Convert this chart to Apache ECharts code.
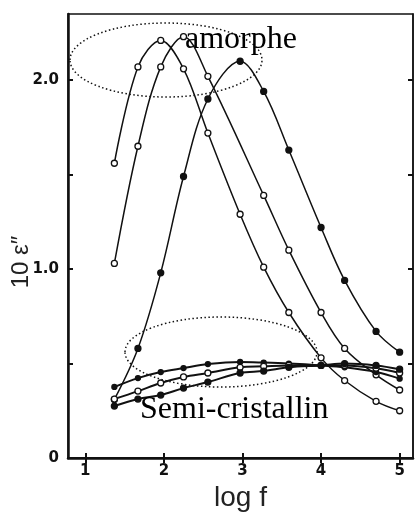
<!DOCTYPE html>
<html>
<head>
<meta charset="utf-8">
<script src="https://cdn.jsdelivr.net/npm/echarts@6/dist/echarts.min.js"></script>
<style>
  html, body { margin: 0; padding: 0; background: #fff; }
  #main { width: 415px; height: 512px; }
</style>
</head>
<body>
<div id="main"></div>
<script>
// log f positions of the measured points
var logF = [1.37, 1.67, 1.96, 2.25, 2.56, 2.97, 3.27, 3.59, 4.0, 4.3, 4.7, 5.0];

// amorphous samples (the big loss peaks)
var amorpheA = [1.56, 2.07, 2.21, 2.06, 1.72, 1.29, 1.01, 0.77, 0.53, 0.41, 0.30, 0.25];
var amorpheB = [1.03, 1.65, 2.07, 2.23, 2.02, null, 1.39, 1.10, 0.77, 0.58, 0.44, 0.36];
var amorpheC = [0.31, 0.58, 0.98, 1.49, 1.90, 2.10, 1.94, 1.63, 1.22, 0.94, 0.67, 0.56];

// semi-crystalline samples (flat curves at the bottom)
var semiA = [0.376, 0.423, 0.455, 0.476, 0.497, 0.508, 0.505, 0.50, 0.49, 0.48, 0.455, 0.42];
var semiB = [0.312, 0.354, 0.397, 0.429, 0.450, 0.48, 0.485, 0.49, 0.49, 0.49, 0.475, 0.45];
var semiC = [0.275, 0.312, 0.333, 0.370, 0.402, 0.45, 0.46, 0.48, 0.49, 0.50, 0.49, 0.47];

var xTicks = [1, 2, 3, 4, 5];
var yTicks = [0, 0.5, 1, 1.5, 2];
var yLabels = [0, 1, 2];

function pairs(vals) {
	var out = [];
	for (var i = 0; i < vals.length; i++) {
		if (vals[i] != null) out.push([logF[i], vals[i]]);
	}
	return out;
}

function curve(vals, filled, size, width) {
	return {
		type: 'line',
		smooth: 0.35,
		data: pairs(vals),
		symbol: 'circle',
		symbolSize: size,
		lineStyle: { color: '#111', width: width },
		itemStyle: { color: filled ? '#111' : '#fff', borderColor: '#111', borderWidth: 1.3 },
		z: 3
	};
}

var myChart = echarts.init(document.getElementById('main'));

var option = {
	animation: false,
	grid: {
		left: 68, right: 2, top: 14, bottom: 54,
		containLabel: false, outerBoundsMode: 'none',
		show: true, borderColor: '#111', borderWidth: 1.5
	},
	xAxis: [{
		type: 'value', min: 0.78, max: 5.17,
		name: 'log f', nameLocation: 'middle', nameGap: 22,
		nameTextStyle: { fontFamily: 'Liberation Sans', fontSize: 28, color: '#222' },
		axisLine: { lineStyle: { color: '#111', width: 2.5 } },
		axisTick: { customValues: xTicks, inside: true, length: 5, lineStyle: { color: '#111', width: 2 } },
		axisLabel: { customValues: xTicks, margin: 6, fontFamily: 'DejaVu Sans', fontWeight: 'bold', fontSize: 15, color: '#111' },
		splitLine: { show: false }
	}, {
		type: 'value', min: 0.78, max: 5.17, position: 'top',
		axisLine: { lineStyle: { color: '#111', width: 2 } },
		axisTick: { customValues: xTicks, inside: true, length: 5, lineStyle: { color: '#111', width: 2 } },
		axisLabel: { show: false },
		splitLine: { show: false }
	}],
	yAxis: [{
		type: 'value', min: 0, max: 2.35,
		axisLine: { lineStyle: { color: '#111', width: 2.5 } },
		axisTick: { customValues: yTicks, inside: true, length: 5, lineStyle: { color: '#111', width: 2 } },
		axisLabel: {
			customValues: yLabels, margin: 9, fontFamily: 'DejaVu Sans', fontWeight: 'bold', fontSize: 15, color: '#111',
			formatter: function (v) { return v == 0 ? '0' : v.toFixed(1); }
		},
		splitLine: { show: false }
	}, {
		type: 'value', min: 0, max: 2.35, position: 'right',
		axisLine: { lineStyle: { color: '#111', width: 1.5 } },
		axisTick: { customValues: yTicks, inside: true, length: 5, lineStyle: { color: '#111', width: 2 } },
		axisLabel: { show: false },
		splitLine: { show: false }
	}],
	series: [
		curve(amorpheA, false, 6, 1.5),
		curve(amorpheB, false, 6, 1.5),
		curve(amorpheC, true, 6, 1.5),
		curve(semiA, true, 5, 2),
		curve(semiB, false, 6, 2),
		curve(semiC, true, 6, 2)
	],
	graphic: [
		{ type: 'ellipse', shape: { cx: 166, cy: 60, rx: 96, ry: 37 },
		  style: { fill: 'none', stroke: '#111', lineWidth: 1.5, lineDash: [1.5, 2.5] }, z: 10 },
		{ type: 'ellipse', shape: { cx: 221, cy: 352, rx: 96, ry: 35 },
		  style: { fill: 'none', stroke: '#111', lineWidth: 1.5, lineDash: [1.5, 2.5] }, z: 10 },
		{ type: 'text', left: 185, top: 24, z: 11,
		  style: { text: 'amorphe', fontFamily: 'Liberation Serif', fontSize: 32, fill: '#000' } },
		{ type: 'text', left: 140, top: 394, z: 11,
		  style: { text: 'Semi-cristallin', fontFamily: 'Liberation Serif', fontSize: 32, fill: '#000' } },
		// y axis title, read bottom to top
		{ type: 'text', x: 21, y: 262, rotation: Math.PI / 2, z: 11,
		  style: { text: '10 ε″', fontFamily: 'Liberation Sans', fontSize: 24, fill: '#222', align: 'center', verticalAlign: 'middle' } }
	]
};

myChart.setOption(option);
</script>
</body>
</html>
